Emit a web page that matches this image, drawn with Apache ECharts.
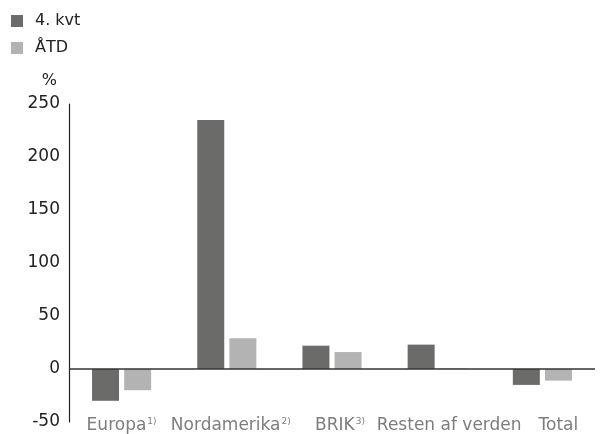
<!DOCTYPE html>
<html>
<head>
<meta charset="utf-8">
<script src="https://cdn.jsdelivr.net/npm/echarts@6/dist/echarts.min.js"></script>
<style>
  html, body { margin: 0; padding: 0; background: #fff; }
  #chart { width: 601px; height: 434px; }
</style>
</head>
<body>
<div id="chart"></div>
<script>
// Regions and their footnote markers
const categories = ['Europa', 'Nordamerika', 'BRIK', 'Resten af verden', 'Total'];
const footnotes = ['1)', '2)', '3)', '', ''];

// Growth in %, per region
const quarterValues = [-30, 235, 22, 23, -15];   // 4. kvt
const ytdValues = [-20, 29, 16, 0.5, -11];        // ÅTD

const yTicks = { min: -50, max: 250, interval: 50 };

const darkGrey = '#6b6b69';
const lightGrey = '#b3b3b3';
const fontFamily = '"DejaVu Sans", "Liberation Sans", sans-serif';

const chart = echarts.init(document.getElementById('chart'));

chart.setOption({
  animation: false,
  textStyle: { fontFamily: fontFamily },
  legend: {
    orient: 'vertical',
    left: 11,
    top: 13,
    padding: 0,
    itemWidth: 12,
    itemHeight: 12,
    itemGap: 11,
    icon: 'rect',
    textStyle: { fontSize: 16, color: '#222', fontFamily: fontFamily, padding: [0, 0, 0, 7] },
    data: ['4. kvt', 'ÅTD']
  },
  // grid 0 holds the bars, grid 1 spaces the category labels a little wider
  grid: [
    { left: 69, right: 6, top: 104, bottom: 12, outerBoundsMode: 'none' },
    { left: 67, right: -12, top: 104, bottom: 12, outerBoundsMode: 'none' }
  ],
  xAxis: [
    {
      type: 'category',
      gridIndex: 0,
      data: categories,
      axisLine: { show: false, onZero: false },
      axisTick: { show: false },
      axisLabel: { show: false }
    },
    {
      type: 'category',
      gridIndex: 1,
      data: categories,
      axisLine: { show: false, onZero: false },
      axisTick: { show: false },
      axisLabel: {
        margin: 4,
        verticalAlign: 'middle',
        interval: 0,
        formatter: function (v, i) {
          const fn = footnotes[i];
          return fn ? '{n|' + v + '}{s|' + fn + '}' : '{n|' + v + '}';
        },
        rich: {
          n: { fontSize: 17, color: '#7d7d7d', fontFamily: fontFamily },
          s: { fontSize: 9, color: '#7d7d7d', fontFamily: fontFamily, verticalAlign: 'top', padding: [0, 0, 9, 1] }
        }
      }
    }
  ],
  yAxis: [
    {
      type: 'value',
      gridIndex: 0,
      min: yTicks.min,
      max: yTicks.max,
      interval: yTicks.interval,
      name: '%',
      nameLocation: 'end',
      nameGap: 15,
      nameTextStyle: { fontSize: 16, color: '#222', align: 'right', padding: [0, 12, 0, 0] },
      axisLine: { show: true, lineStyle: { color: '#222', width: 1.2 } },
      axisTick: { show: false },
      splitLine: { show: false },
      axisLabel: { fontSize: 17, color: '#222', margin: 9 }
    },
    {
      type: 'value',
      gridIndex: 1,
      min: yTicks.min,
      max: yTicks.max,
      interval: yTicks.interval,
      show: false
    }
  ],
  series: [
    {
      name: '4. kvt',
      type: 'bar',
      xAxisIndex: 0,
      yAxisIndex: 0,
      data: quarterValues,
      barWidth: 27,
      barGap: '19%',
      itemStyle: { color: darkGrey },
      markLine: {
        silent: true,
        symbol: 'none',
        label: { show: false },
        lineStyle: { color: '#333', width: 1.5, type: 'solid' },
        data: [{ yAxis: 0 }]
      }
    },
    {
      name: 'ÅTD',
      type: 'bar',
      xAxisIndex: 0,
      yAxisIndex: 0,
      data: ytdValues,
      barWidth: 27,
      barGap: '19%',
      itemStyle: { color: lightGrey }
    }
  ]
});
</script>
</body>
</html>
